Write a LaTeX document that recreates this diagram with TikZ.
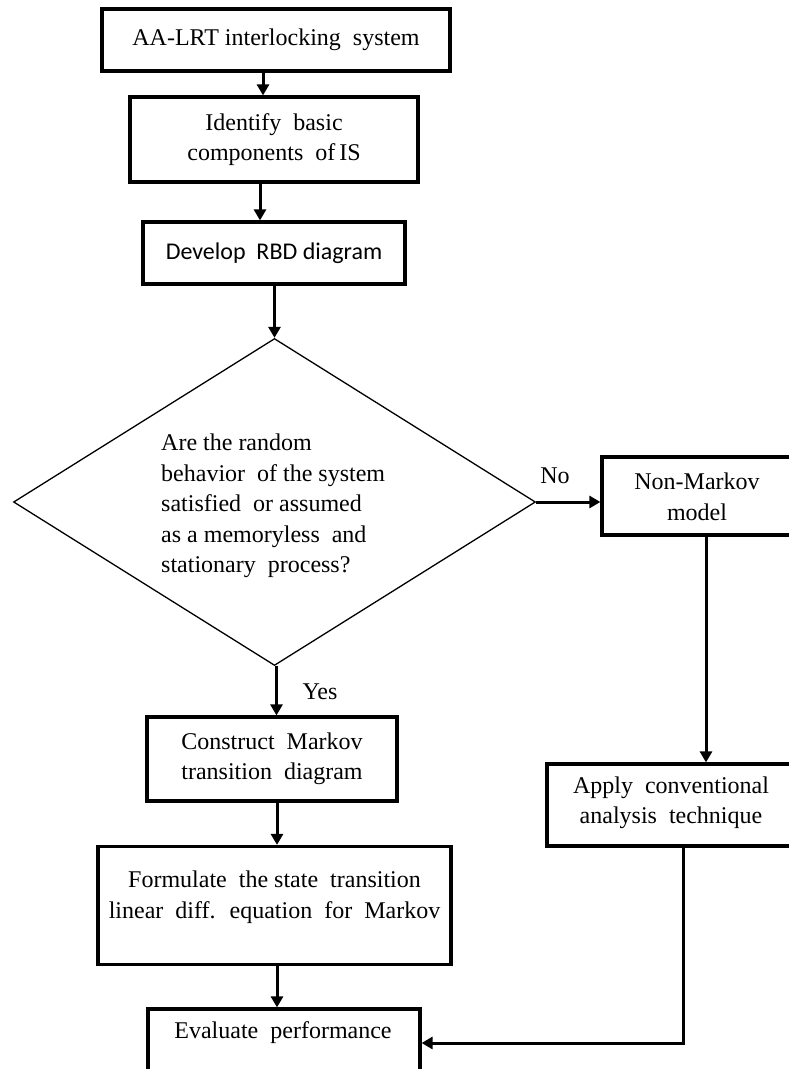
\documentclass[tikz,border=0pt]{standalone}
\usepackage{fontspec}
\setmainfont{Liberation Serif}
\newfontfamily\calibrifont{Carlito}
\usetikzlibrary{arrows.meta,shapes.geometric}
\begin{document}
\begin{tikzpicture}[x=1pt,y=-1pt,
  txt/.style={font=\fontsize{24}{30.5}\selectfont, align=center, inner sep=0pt},
  box/.style={draw, line width=3.2pt, inner sep=0pt, txt},
  decision/.style={draw, diamond, line width=1.3pt, inner sep=0pt},
  arr/.style={line width=3pt, -{Triangle[length=11pt,width=12pt]}},
  flow/.style={line width=3pt}]
\useasboundingbox (0,0) rectangle (789,1069);
\clip (0,0) rectangle (789,1069);

% main column
\node[box, minimum width=348pt, minimum height=62pt] (sys) at (276,40)
  {AA-LRT interlocking~ system};
\node[box, minimum width=288pt, minimum height=85pt] (ident) at (274,139.5)
  {Identify~ basic\\components~ of\,IS};
\node[box, font=\calibrifont\fontsize{24}{30}\selectfont,
      minimum width=262pt, minimum height=62pt] (rbd) at (274,253)
  {Develop~ RBD diagram};
\node[decision, minimum width=522pt, minimum height=327pt] (dec) at (274.5,502) {};
\node[txt, align=left, anchor=west] (q) at (161,506)
  {Are the random\\behavior~ of the system\\satisfied~ or assumed\\as a memoryless~ and\\stationary~ process?};

\node[box, minimum width=250pt, minimum height=84pt] (cons) at (272,759)
  {Construct~ Markov\\transition~ diagram};
\node[box, minimum width=353pt, minimum height=118pt] (form) at (274.5,905.5) {};
\node[txt] (formt) at (274.5,897)
  {Formulate~ the state~ transition\\linear~ diff.~ equation~ for~ Markov};
\node[box, minimum width=272pt, minimum height=62pt] (eval) at (284,1040) {};
\node[txt] (evalt) at (283,1033) {Evaluate~ performance};

% right column
\node[box, minimum width=198pt, minimum height=78pt] (nonm) at (701,496) {};
\node[txt] (nonmt) at (697,497) {Non-Markov\\model};
\node[box, minimum width=248pt, minimum height=82pt] (appl) at (671,805) {};
\node[txt] (applt) at (671,803) {Apply~ conventional\\analysis~ technique};

% labels
\node[txt] (no) at (555,476) {No};
\node[txt] (yes) at (320,692) {Yes};

% connectors
\draw[arr] ([xshift=-13pt]sys.south) -- ([xshift=-11pt]ident.north);
\draw[arr] ([xshift=-14pt]ident.south) -- ([xshift=-14pt]rbd.north);
\draw[arr] (rbd.south -| dec.north) -- (dec.north);
\draw[arr] ([xshift=2pt]dec.south) -- ([xshift=2pt]dec.south |- cons.north);
\draw[arr] ([xshift=5pt]cons.south) -- ([xshift=5pt]cons.south |- form.north);
\draw[arr] ([xshift=2.5pt]form.south) -- ([xshift=2.5pt]form.south |- eval.north);
\draw[arr] (dec.east) -- (dec.east -| nonm.west);
\draw[arr] ([xshift=5pt]nonm.south) -- ([xshift=5pt]nonm.south |- appl.north);
\draw[arr] ([xshift=12pt]appl.south) |- ([yshift=-3pt]eval.east);
\end{tikzpicture}
\end{document}
